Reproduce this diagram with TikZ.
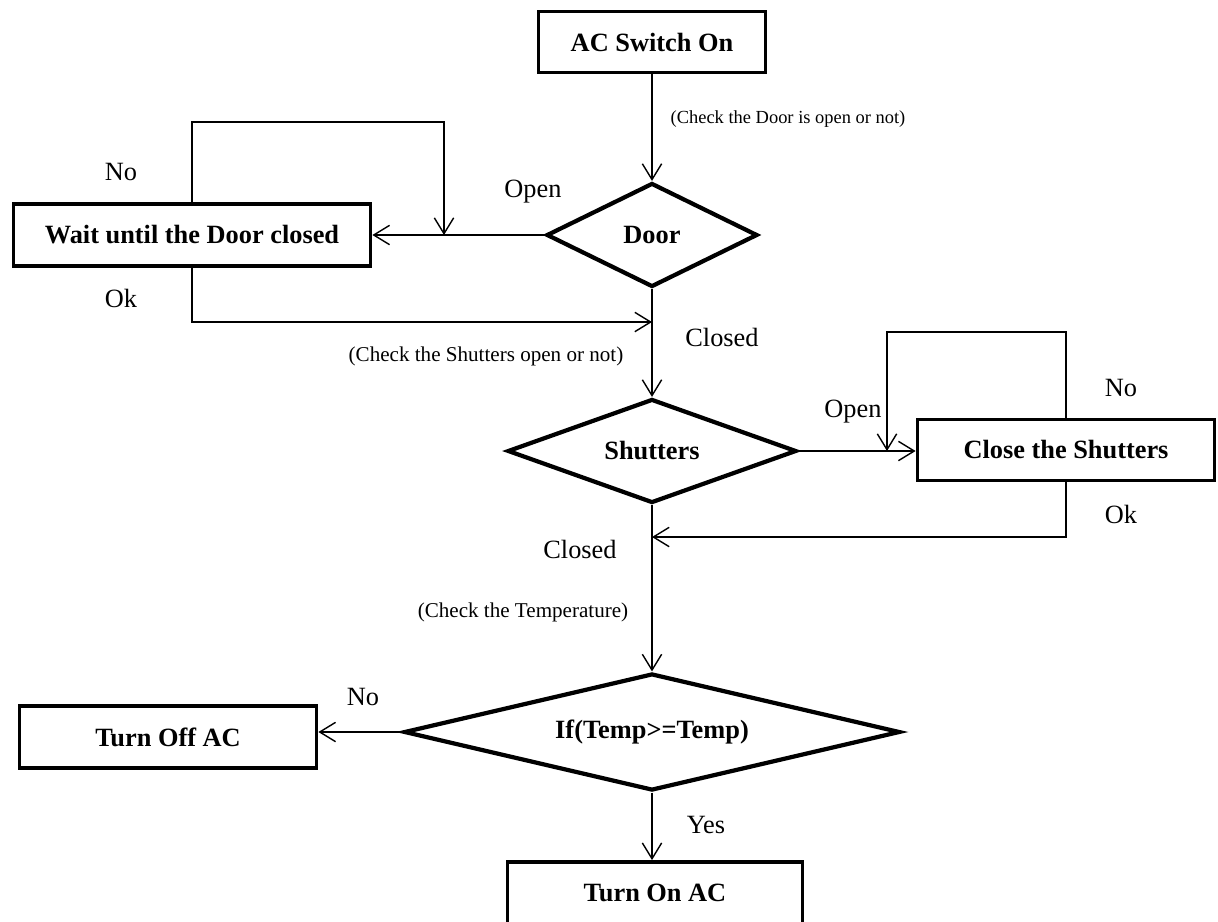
\documentclass[tikz,border=0pt]{standalone}
\usepackage{fontspec}
\setmainfont{Liberation Serif}
\usetikzlibrary{shapes.geometric, arrows.meta, positioning}

\begin{document}
\begin{tikzpicture}[x=0.02cm, y=-0.02cm, >={Straight Barb[length=9pt, width=11pt]},
    block/.style={rectangle, draw, line width=2.2pt, minimum height=1.22cm, inner sep=2pt, font=\bfseries\fontsize{15}{18}\selectfont},
    decision/.style={diamond, draw, line width=2.4pt, inner sep=0pt, font=\bfseries\fontsize{15}{18}\selectfont},
    line/.style={draw, ->, line width=0.8pt},
    tag/.style={font=\fontsize{15}{18}\selectfont},
    note/.style={font=\fontsize{12}{14}\selectfont}]
    \useasboundingbox (0,0) rectangle (1218,921);
    \clip (0,0) rectangle (1218,921);

    \node [block, minimum width=4.54cm] (acon) at (652,42) {AC Switch On};
    \node [decision, minimum width=4.22cm, minimum height=2.08cm, shape aspect=2] (door) at (652,235) {Door};
    \node [block, minimum width=7.14cm, minimum height=1.24cm] (wait) at (192,235) {Wait until the Door closed};
    \node [decision, minimum width=5.78cm, minimum height=2.08cm, shape aspect=2.8] (shutters) at (652,451) {Shutters};
    \node [block, minimum width=5.94cm] (close) at (1066,450) {Close the Shutters};
    \node [decision, minimum width=9.92cm, minimum height=2.34cm, shape aspect=4.2] (temp) at (652,732) {If(Temp>=Temp)};
    \node [block, minimum width=5.94cm, minimum height=1.24cm] (acoff) at (168,737) {Turn Off AC};
    \node [block, minimum width=5.9cm, minimum height=1.24cm] (acstart) at (655,893) {Turn On AC};

    % labels
    \node [note, font=\fontsize{10.5}{13}\selectfont] (doornote) at (788,119) {(Check the Door is open or not)};
    \node [tag] (dooropen) at (533,192) {Open};
    \node [tag] (waitno) at (121,172) {No};
    \node [tag] (waitok) at (121,298) {Ok};
    \node [tag] (doorclosed) at (722,337) {Closed};
    \node [note] (shutnote) at (486,356) {(Check the Shutters open or not)};
    \node [tag] (shutopen) at (853,412) {Open};
    \node [tag] (closeno) at (1121,388) {No};
    \node [tag] (closeok) at (1121,514) {Ok};
    \node [tag] (shutclosed) at (580,549) {Closed};
    \node [note] (tempnote) at (523,612) {(Check the Temperature)};
    \node [tag] (tempno) at (363,697) {No};
    \node [tag] (tempyes) at (706,825) {Yes};

    \coordinate (waitjoin) at (444,235);
    \coordinate (doorjoin) at (652,322);
    \coordinate (closejoin) at (887,451);
    \coordinate (shutjoin) at (652,537);

    \path [line] (acon) -- (door);
    \path [line] (door.west) -- (wait.east);
    \path [line] (wait.north) |- (444,122) -- (waitjoin);
    \path [line] (wait.south) |- (doorjoin);
    \path [line] (door.south) -- (shutters.north);
    \path [line] (shutters.east) -- (shutters.east -| close.west);
    \path [line] (close.north) |- (887,332) -- (closejoin);
    \path [line] (close.south) |- (shutjoin);
    \path [line] (shutters.south) -- (temp.north);
    \path [line] (temp.west) -- (temp.west -| acoff.east);
    \path [line] (temp.south) -- (temp.south |- acstart.north);
\end{tikzpicture}
\end{document}
